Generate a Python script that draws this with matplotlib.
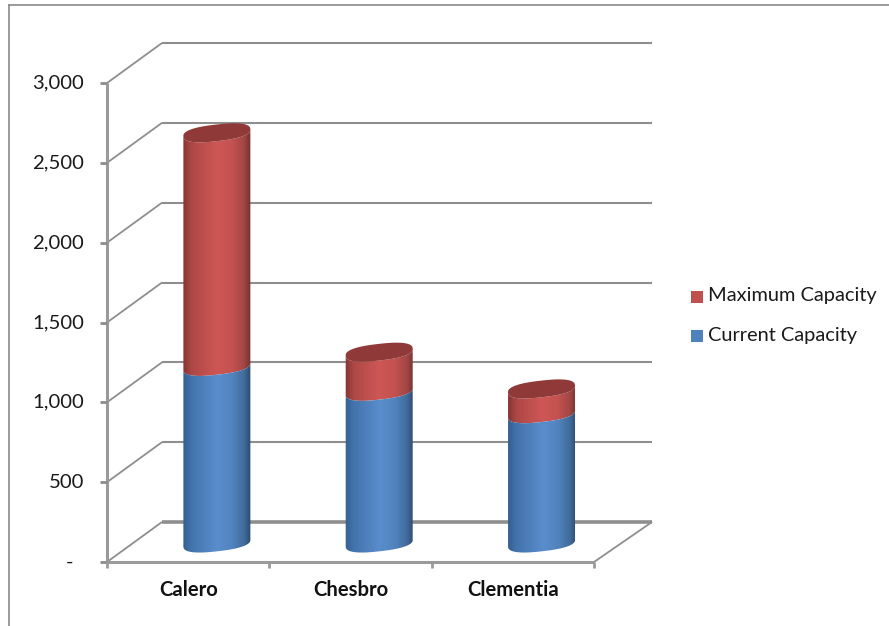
import numpy as np
import matplotlib
matplotlib.use("Agg")
import matplotlib.pyplot as plt
from matplotlib.colors import LinearSegmentedColormap
from matplotlib.patches import PathPatch, Rectangle
from matplotlib.path import Path

categories = ["Calero", "Chesbro", "Clementia"]
current_capacity = [1106, 950, 810]
maximum_capacity = [1463, 245, 155]
y_ticks = [0, 500, 1000, 1500, 2000, 2500, 3000]
y_tick_labels = ["-  ", "500", "1,000", "1,500", "2,000", "2,500", "3,000"]

W, H = 889, 626
# front plane of the 3d box, in pixels
LEFT, RIGHT, BASE, TOP = 107, 594, 562, 83
DEPTH_X, DEPTH_Y = 55, 40
BACK_RIGHT = 652
GRID = "#8e8e8e"

X_PX = (RIGHT - LEFT) / len(categories)
Y_PX = (BASE - TOP) / y_ticks[-1]
dx = DEPTH_X / X_PX
dy = DEPTH_Y / Y_PX
x_end = (BACK_RIGHT - LEFT) / X_PX

plt.rcParams["font.family"] = ["Lato", "DejaVu Sans"]

fig = plt.figure(figsize=(W / 100, H / 100), dpi=100, facecolor="white")
ax = fig.add_axes([LEFT / W, 1 - BASE / H, (RIGHT - LEFT) / W, (BASE - TOP) / H])
ax.set_xlim(0, len(categories))
ax.set_ylim(0, y_ticks[-1])
ax.axis("off")


def line(xs, ys, lw=1.5, color=GRID, z=1):
    ax.plot(xs, ys, color=color, lw=lw, clip_on=False, zorder=z, solid_capstyle="butt")


def ellipse_pts(cx, cy, start, stop, n=80):
    # slightly squared, tilted ellipse; pixel radii converted back to data units
    t = np.linspace(start, stop, n)
    a, b, tilt = 33.7, 8.3, np.radians(6.5)
    c = np.sign(np.cos(t)) * np.abs(np.cos(t)) ** (2 / 2.5)
    s = np.sign(np.sin(t)) * np.abs(np.sin(t)) ** (2 / 2.5)
    px = a * c * np.cos(tilt) - b * s * np.sin(tilt)
    py = a * c * np.sin(tilt) + b * s * np.cos(tilt)
    return cx + px / X_PX, cy + py / Y_PX


def body(cx, y0, y1, stops, z):
    # side of one stacked segment: horizontal gradient clipped to the outline
    bx, by = ellipse_pts(cx, y0, np.pi, 2 * np.pi)
    tx, ty = ellipse_pts(cx, y1, 0, -np.pi)
    verts = np.column_stack([np.r_[bx, tx], np.r_[by, ty]])
    patch = PathPatch(Path(verts), fc="none", ec="none", transform=ax.transData)
    ax.add_patch(patch)
    cmap = LinearSegmentedColormap.from_list("side", stops)
    half = 34 / X_PX
    im = ax.imshow(np.linspace(0, 1, 128).reshape(1, -1), cmap=cmap, aspect="auto",
                   extent=[cx - half, cx + half, y0 - 100, y1 + 100], zorder=z)
    im.set_clip_path(patch)
    im.set_clip_on(True)


blue_stops = [(0, "#33608f"), (0.12, "#4273ab"), (0.5, "#5a8dcc"), (0.72, "#5184bf"),
              (0.9, "#416c9c"), (1, "#2c4a6e")]
red_stops = [(0, "#843432"), (0.12, "#ad4846"), (0.5, "#ce5755"), (0.72, "#c45250"),
             (0.9, "#a24745"), (1, "#743130")]

# back wall and left wall gridlines
for tick in y_ticks[1:]:
    line([dx, x_end], [tick + dy, tick + dy])
    line([0, dx], [tick, tick + dy], lw=1.3)

# floor
line([dx, x_end], [dy, dy], lw=2.6)
line([0, dx], [0, dy], lw=1.3)
line([len(categories), x_end], [0, dy], lw=1.3)
line([0, len(categories)], [0, 0], lw=2.2, color="#9a9a9a")

# value axis and category axis ticks
line([0, 0], [0, y_ticks[-1]], lw=2.2, color="#9a9a9a")
for tick, lab in zip(y_ticks, y_tick_labels):
    line([-7 / X_PX, 0], [tick, tick], lw=2.0, color="#8c8c8c")
    ax.text(-23 / X_PX, tick, lab, ha="right", va="center", fontsize=14.6, color="#1a1a1a",
            clip_on=False)
for i in range(len(categories) + 1):
    line([i, i], [0, -6 / Y_PX], lw=2.0, color="#9a9a9a")

# cylinders
for i, name in enumerate(categories):
    cx = i + 0.5 + 28.7 / X_PX
    y0 = dy / 2 - 1 / Y_PX
    y1 = y0 + current_capacity[i]
    y2 = y1 + maximum_capacity[i]
    body(cx, y0, y1, blue_stops, 3)
    body(cx, y1, y2, red_stops, 2)
    ex, ey = ellipse_pts(cx, y2, 0, 2 * np.pi)
    ax.fill(ex, ey, color="#8f3a38", lw=0, zorder=4, clip_on=False)
    ax.text(i + 0.5, -28 / Y_PX, name, ha="center", va="center", fontsize=14.6,
            fontweight="bold", color="#111111", clip_on=False)

ax.set_xlim(0, len(categories))
ax.set_ylim(0, y_ticks[-1])

# legend, placed in figure pixels
overlay = fig.add_axes([0, 0, 1, 1], facecolor="none")
overlay.set_xlim(0, W)
overlay.set_ylim(H, 0)
overlay.axis("off")
legend_rows = [("Maximum Capacity", "#c0504d", 296), ("Current Capacity", "#4f81bd", 335)]
for label, color, y in legend_rows:
    overlay.add_patch(Rectangle((691, y - 5.5), 12, 12, fc=color, ec="none"))
    overlay.text(708, y, label, ha="left", va="center", fontsize=14.4, color="#1a1a1a")

# thin frame at the image edge
overlay.plot([9, 9], [626, 5], color="#8a8a8a", lw=1.2)
overlay.plot([9, 889], [5, 5], color="#8a8a8a", lw=1.2)

fig.savefig("out.png", dpi=100)
